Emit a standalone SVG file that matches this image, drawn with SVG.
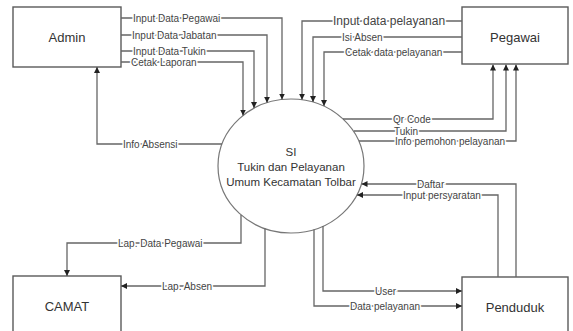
<svg xmlns="http://www.w3.org/2000/svg" width="573" height="331" viewBox="0 0 573 331">
<style>
.box{fill:#fff;stroke:#5a5a5a;stroke-width:1.4}
.proc{fill:#fff;stroke:#777;stroke-width:1.2}
.c{fill:none;stroke:#666;stroke-width:1.3;marker-end:url(#ah)}
.nt{font-family:"Liberation Sans",Arial,sans-serif;font-size:13px;fill:#333;text-anchor:middle}
.pt{font-family:"Liberation Sans",Arial,sans-serif;font-size:11.5px;fill:#333;text-anchor:middle}
.lb{font-family:"Liberation Sans",Arial,sans-serif;font-size:10px;fill:#444;stroke:#fff;stroke-width:3;paint-order:stroke}
.lb12{font-size:12px}
</style>
<defs>
<marker id="ah" viewBox="0 0 10 10" refX="10" refY="5" markerWidth="6" markerHeight="6" markerUnits="userSpaceOnUse" orient="auto">
<path d="M0,0 L10,5 L0,10 z" fill="#222"/>
</marker>
</defs>
<g id="SI">
<ellipse class="proc" cx="291" cy="166" rx="73" ry="67"/>
<text class="pt" x="291" y="156">SI</text>
<text class="pt" x="291" y="171">Tukin dan Pelayanan</text>
<text class="pt" x="291" y="186">Umum Kecamatan Tolbar</text>
</g>
<g id="Admin">
<rect class="box" x="13" y="7" width="108" height="60"/>
<text class="nt" x="67" y="42">Admin</text>
</g>
<g id="Pegawai">
<rect class="box" x="462" y="7" width="106" height="57"/>
<text class="nt" x="515" y="42">Pegawai</text>
</g>
<g id="CAMAT">
<rect class="box" x="13" y="276" width="108" height="62"/>
<text class="nt" x="67" y="311">CAMAT</text>
</g>
<g id="Penduduk">
<rect class="box" x="462" y="277" width="106" height="62"/>
<text class="nt" x="515" y="312">Penduduk</text>
</g>
<g id="connectors">
<path class="c" d="M121,18 H282 V99.5"/>
<path class="c" d="M121,35 H267 V102.7"/>
<path class="c" d="M121,51 H254 V108"/>
<path class="c" d="M121,62 H243 V115.5"/>
<path class="c" d="M222,144 H97 V67"/>
<path class="c" d="M462,21 H302 V99.8"/>
<path class="c" d="M462,37 H313 V102"/>
<path class="c" d="M462,52 H324 V106"/>
<path class="c" d="M343,119 H493 V64.5"/>
<path class="c" d="M354,131 H506 V64.5"/>
<path class="c" d="M359,141 H516 V64.5"/>
<path class="c" d="M516,277 V184 H361.5"/>
<path class="c" d="M498,277 V195 H357"/>
<path class="c" d="M323,226 V291 H462"/>
<path class="c" d="M314,229.6 V306 H462"/>
<path class="c" d="M241,215 V243 H67 V276"/>
<path class="c" d="M265,228.6 V286 H121"/>
<text class="lb" x="133" y="21.5">Input Data Pegawai</text>
<text class="lb" x="132" y="38.5">Input Data Jabatan</text>
<text class="lb" x="133" y="54.5">Input Data Tukin</text>
<text class="lb" x="131" y="65.5">Cetak Laporan</text>
<text class="lb" x="123" y="147.5">Info Absensi</text>
<text class="lb lb12" x="333" y="25">Input data pelayanan</text>
<text class="lb" x="342" y="40.5">Isi Absen</text>
<text class="lb" x="345" y="55.5">Cetak data pelayanan</text>
<text class="lb" x="393" y="122.5">Qr Code</text>
<text class="lb" x="394" y="134.5">Tukin</text>
<text class="lb" x="395" y="144.5">Info pemohon pelayanan</text>
<text class="lb" x="417" y="187.5">Daftar</text>
<text class="lb" x="403" y="198.5">Input persyaratan</text>
<text class="lb" x="375" y="294.5">User</text>
<text class="lb" x="350" y="309.5">Data pelayanan</text>
<text class="lb" x="118" y="246.5">Lap. Data Pegawai</text>
<text class="lb" x="162" y="289.5">Lap. Absen</text>
</g>
</svg>
